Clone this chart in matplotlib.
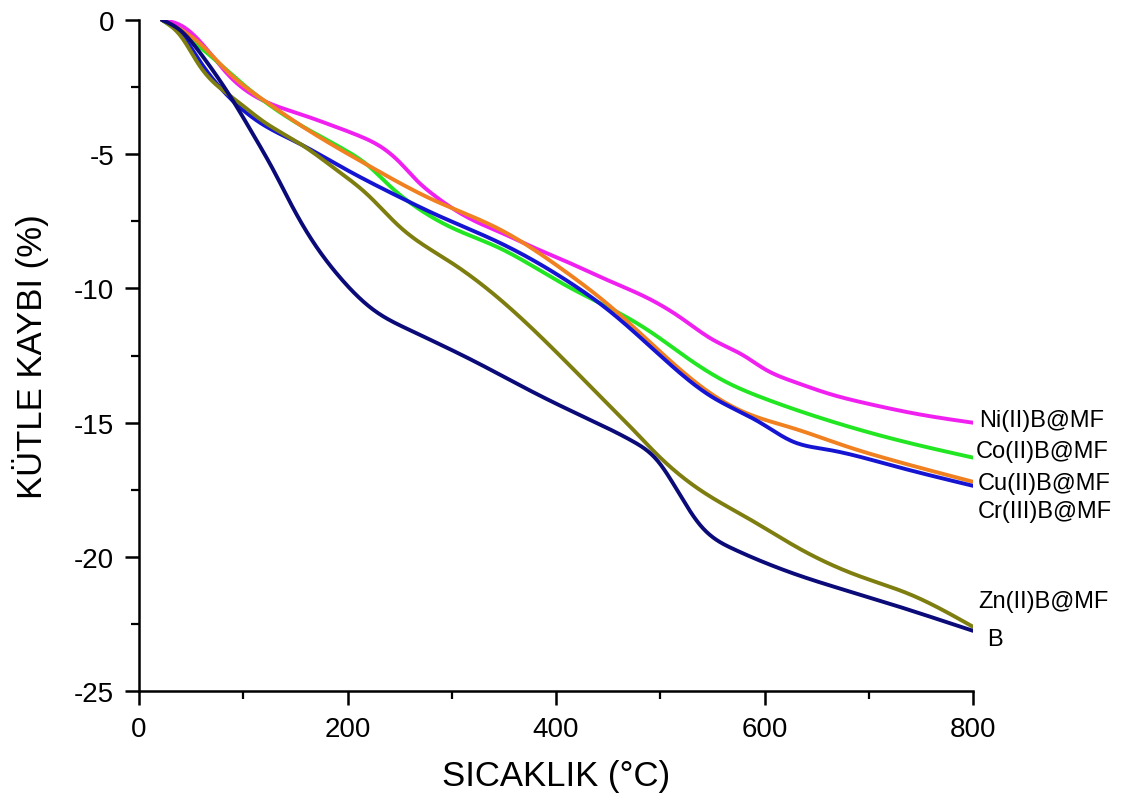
import numpy as np
import matplotlib
matplotlib.use("Agg")
import matplotlib.pyplot as plt
from matplotlib.ticker import MultipleLocator

plt.rcParams['font.family'] = ['Liberation Sans', 'DejaVu Sans']
plt.rcParams['axes.unicode_minus'] = False

# TGA curves: temperature (°C) vs mass loss (%)
ni_t = [22, 40, 56, 87, 119, 154, 183, 210, 231, 250, 267, 282, 300, 320, 346, 380, 410, 450, 490, 520, 550, 580, 600, 630, 660, 700, 750, 800]
ni_w = [0, -0.2, -0.7, -2.1, -3.0, -3.5, -3.9, -4.3, -4.7, -5.3, -6.0, -6.5, -7.0, -7.45, -7.9, -8.5, -9.0, -9.7, -10.4, -11.1, -11.9, -12.5, -13.0, -13.5, -13.9, -14.3, -14.7, -15.0]

co_t = [22, 58, 106, 154, 200, 219, 241, 267, 298, 346, 410, 450, 490, 530, 564, 600, 660, 723, 800]
co_w = [0, -1.0, -2.6, -3.9, -4.9, -5.4, -6.2, -7.0, -7.7, -8.5, -9.9, -10.7, -11.6, -12.7, -13.5, -14.1, -14.9, -15.6, -16.3]

cu_t = [22, 56, 87, 120, 154, 219, 282, 346, 410, 450, 490, 548, 580, 627, 680, 723, 800]
cu_w = [0, -0.8, -2.0, -3.0, -3.9, -5.4, -6.7, -7.8, -9.4, -10.6, -12.0, -13.9, -14.6, -15.2, -15.9, -16.4, -17.2]

cr_t = [22, 40, 56, 87, 119, 151, 200, 250, 282, 346, 410, 450, 500, 548, 596, 627, 660, 723, 800]
cr_w = [0, -0.5, -1.4, -2.9, -3.9, -4.55, -5.6, -6.6, -7.2, -8.3, -9.7, -10.8, -12.5, -14.0, -15.0, -15.7, -16.0, -16.6, -17.35]

zn_t = [22, 40, 58, 90, 120, 154, 190, 219, 250, 298, 346, 388, 442, 470, 500, 538, 586, 634, 690, 740, 800]
zn_w = [0, -0.6, -1.7, -2.9, -3.8, -4.6, -5.6, -6.5, -7.7, -9.0, -10.4, -11.9, -14.0, -15.1, -16.3, -17.5, -18.6, -19.7, -20.7, -21.4, -22.6]

b_t = [22, 40, 60, 90, 110, 129, 145, 161, 193, 225, 257, 321, 385, 433, 474, 497, 516, 538, 570, 634, 700, 800]
b_w = [0, -0.4, -1.3, -3.0, -4.3, -5.6, -6.8, -7.9, -9.6, -10.8, -11.5, -12.7, -14.0, -14.9, -15.7, -16.4, -17.5, -18.8, -19.7, -20.7, -21.5, -22.75]

labels = ["Ni(II)B@MF", "Co(II)B@MF", "Cu(II)B@MF", "Cr(III)B@MF", "Zn(II)B@MF", "B"]
label_y = [-14.9, -16.06, -17.25, -18.3, -21.65, -23.06]
label_x = [806, 803, 805, 805, 805, 814]

series = [
    (ni_t, ni_w, "#F020F0"),
    (co_t, co_w, "#22E622"),
    (cu_t, cu_w, "#F08020"),
    (cr_t, cr_w, "#1414D2"),
    (zn_t, zn_w, "#7E7E10"),
    (b_t, b_w, "#0A0A78"),
]


def smooth(t, w, n=500):
    """Natural cubic spline through the sampled points."""
    t = np.asarray(t, float)
    w = np.asarray(w, float)
    k = len(t)
    h = np.diff(t)
    A = np.zeros((k, k))
    r = np.zeros(k)
    A[0, 0] = A[-1, -1] = 1.0
    for i in range(1, k - 1):
        A[i, i - 1] = h[i - 1]
        A[i, i] = 2 * (h[i - 1] + h[i])
        A[i, i + 1] = h[i]
        r[i] = 6 * ((w[i + 1] - w[i]) / h[i] - (w[i] - w[i - 1]) / h[i - 1])
    M = np.linalg.solve(A, r)
    xs = np.linspace(t[0], t[-1], n)
    idx = np.clip(np.searchsorted(t, xs) - 1, 0, k - 2)
    x0, x1 = t[idx], t[idx + 1]
    hh = x1 - x0
    a = (x1 - xs) / hh
    b = (xs - x0) / hh
    ys = (a * w[idx] + b * w[idx + 1]
          + ((a**3 - a) * M[idx] + (b**3 - b) * M[idx + 1]) * hh**2 / 6)
    return xs, ys


fig = plt.figure(figsize=(11.21, 8.04), dpi=100)
ax = fig.add_axes([0.124, 0.139, 0.744, 0.835])

for (t, w, c) in series:
    xs, ys = smooth(t, w)
    ax.plot(xs, ys, color=c, lw=2.8, solid_capstyle='round')

for name, x, y in zip(labels, label_x, label_y):
    ax.text(x, y, name, fontsize=17, va='center', ha='left', clip_on=False)

ax.set_xlim(0, 800)
ax.set_ylim(-25, 0)
ax.xaxis.set_major_locator(MultipleLocator(200))
ax.xaxis.set_minor_locator(MultipleLocator(100))
ax.yaxis.set_major_locator(MultipleLocator(5))
ax.yaxis.set_minor_locator(MultipleLocator(2.5))

ax.spines['top'].set_visible(False)
ax.spines['right'].set_visible(False)
for sp in ('left', 'bottom'):
    ax.spines[sp].set_linewidth(1.8)

ax.tick_params(which='major', direction='out', length=10, width=1.8, labelsize=20, pad=8)
ax.tick_params(which='minor', direction='out', length=6, width=1.6)

ax.set_xlabel("SICAKLIK (°C)", fontsize=25, labelpad=12)
ax.set_ylabel("KÜTLE KAYBI (%)", fontsize=25, labelpad=18)

fig.savefig("out.png", dpi=100)
